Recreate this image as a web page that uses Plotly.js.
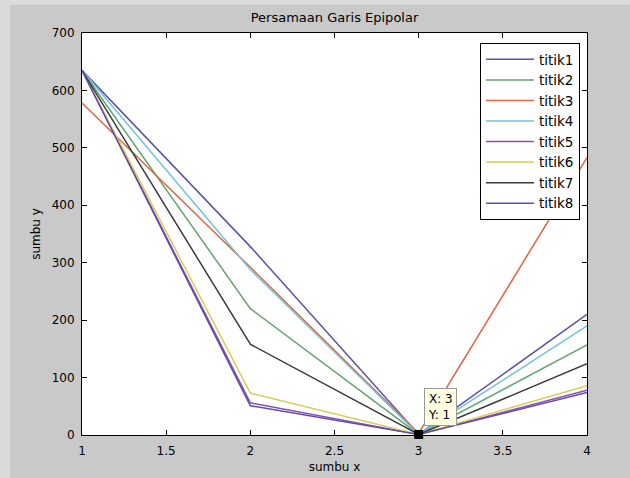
<!DOCTYPE html>
<html>
<head>
<meta charset="utf-8">
<script src="https://cdn.plot.ly/plotly-3.0.1.min.js"></script>
<style>html,body{margin:0;padding:0;background:#c9c9c9;}#chart{width:630px;height:478px;}</style>
</head>
<body>
<div id="chart"></div>
<script>
const xs = [1, 2, 3, 4];
const seriesNames = ["titik1","titik2","titik3","titik4","titik5","titik6","titik7","titik8"];
const titik1 = [635, 328, 1, 210];
const titik2 = [635, 220, 1, 157];
const titik3 = [578, 292, 3, 483];
const titik4 = [635, 288, 1, 190];
const titik5 = [635, 56, 1, 78];
const titik6 = [635, 73, 1, 86];
const titik7 = [635, 158, 1, 124];
const titik8 = [635, 51, 1, 74];
const colors = ["#5b51a6","#62a36e","#e0643e","#72c2dc","#8750b0","#d9cb55","#3a3a3a","#6548a8"];
const tipX = [3];
const tipY = [1];
const xTicks = [1, 1.5, 2, 2.5, 3, 3.5, 4];
const yTicks = [0, 100, 200, 300, 400, 500, 600, 700];

const allY = [titik1, titik2, titik3, titik4, titik5, titik6, titik7, titik8];
const traces = allY.map((ys, i) => ({
  x: xs, y: ys, type: 'scatter', mode: 'lines', name: seriesNames[i],
  line: {color: colors[i], width: 1.5}
}));
traces.push({x: tipX, y: tipY, type: 'scatter', mode: 'markers', showlegend: false,
  marker: {symbol: 'square', size: 9, color: '#000'}, cliponaxis: false});

const F = 'DejaVu Sans, Liberation Sans, Arial, sans-serif';
const axisCommon = {
  showgrid: false, zeroline: false, showline: true, linecolor: '#000', linewidth: 1,
  mirror: 'ticks', ticks: 'inside', ticklen: 5, tickcolor: '#000',
  tickfont: {family: F, size: 12, color: '#000'}, fixedrange: true
};
const layout = {
  width: 630, height: 478,
  paper_bgcolor: '#c9c9c9', plot_bgcolor: '#ffffff',
  margin: {l: 82, r: 43, t: 33, b: 43},
  font: {family: F, size: 12, color: '#000'},
  title: {text: 'Persamaan Garis Epipolar', x: 0.5, xref: 'paper', y: 0.963, yanchor: 'middle',
    font: {family: F, size: 13, color: '#000'}},
  xaxis: Object.assign({}, axisCommon, {range: [1, 4], tickvals: xTicks, ticklabelstandoff: 5,
    title: {text: 'sumbu x', standoff: 5, font: {family: F, size: 12, color: '#000'}}}),
  yaxis: Object.assign({}, axisCommon, {range: [0, 700], tickvals: yTicks, ticklabelstandoff: 4,
    title: {text: 'sumbu y', standoff: 8, font: {family: F, size: 12, color: '#000'}}}),
  legend: {x: 0.788, y: 0.975, xanchor: 'left', yanchor: 'top', bgcolor: '#ffffff',
    bordercolor: '#000', borderwidth: 1, font: {family: F, size: 13.5, color: '#000'},
    itemwidth: 48, tracegroupgap: 0},
  showlegend: true,
  annotations: [{x: tipX[0], y: tipY[0], xref: 'x', yref: 'y', showarrow: false,
    text: 'X: ' + tipX[0] + '<br>Y: ' + tipY[0], align: 'left',
    xanchor: 'left', yanchor: 'bottom', xshift: 5, yshift: 8,
    bgcolor: '#ffffe1', bordercolor: '#9a9a9a', borderwidth: 1, borderpad: 3,
    font: {family: F, size: 12, color: '#000'}}],
  shapes: [
    {type: 'rect', xref: 'paper', yref: 'paper', x0: -82/505, x1: -72/505, y0: -43/402, y1: 435/402,
     fillcolor: '#dadada', line: {width: 0}, layer: 'below'},
    {type: 'rect', xref: 'paper', yref: 'paper', x0: -82/505, x1: 548/505, y0: 1+28/402, y1: 1+33/402,
     fillcolor: '#dadada', line: {width: 0}, layer: 'below'}
  ]
};
Plotly.newPlot('chart', traces, layout, {displayModeBar: false, staticPlot: true});
</script>
</body>
</html>
